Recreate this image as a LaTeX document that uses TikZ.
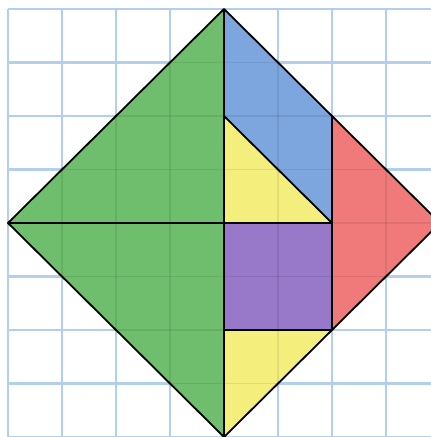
\documentclass[tikz,border=0pt]{standalone}
\begin{document}
\begin{tikzpicture}[x=1pt,y=-1pt,
  gridline/.style={draw=gridblue,line width=2.2pt},
  faintgrid/.style={draw=black,opacity=0.08,line width=1.5pt},
  piece/.style={draw=black,line width=1.8pt,line join=round}]
\definecolor{gridblue}{RGB}{178,208,238}
\definecolor{pgreen}{RGB}{110,190,110}
\definecolor{pblue}{RGB}{126,166,222}
\definecolor{pred}{RGB}{240,122,122}
\definecolor{ppurple}{RGB}{152,120,200}
\definecolor{pyellow}{RGB}{244,238,124}
\useasboundingbox (0,0) rectangle (431,437);
\clip (0,0) rectangle (431,437);
\fill[white] (0,0) rectangle (431,437);
% grid
\foreach \i in {0,...,8} {
  \draw[gridline] ({8+54*\i},9) -- ({8+54*\i},437);
  \draw[gridline] (8,{9+53.5*\i}) -- (431,{9+53.5*\i});
}
% key points
\coordinate (T) at (224,9);
\coordinate (L) at (8,223);
\coordinate (B) at (224,437);
\coordinate (R) at (440,223);
\coordinate (C) at (224,223);
\coordinate (M2) at (224,116);
\coordinate (N2) at (332,116);
\coordinate (N4) at (332,223);
\coordinate (N6) at (332,330);
\coordinate (M6) at (224,330);
% pieces
\fill[pgreen] (T) -- (L) -- (C) -- cycle;
\fill[pgreen] (L) -- (B) -- (C) -- cycle;
\fill[pblue] (T) -- (N2) -- (N4) -- (M2) -- cycle;
\fill[pyellow] (M2) -- (N4) -- (C) -- cycle;
\fill[pred] (N2) -- (R) -- (N6) -- cycle;
\fill[ppurple] (C) -- (N4) -- (N6) -- (M6) -- cycle;
\fill[pyellow] (M6) -- (N6) -- (B) -- cycle;
% faint grid through pieces
\begin{scope}
\clip (T) -- (L) -- (B) -- (R) -- cycle;
\foreach \i in {0,...,8} {
  \draw[faintgrid] ({8+54*\i},0) -- ({8+54*\i},437);
  \draw[faintgrid] (0,{9+53.5*\i}) -- (431,{9+53.5*\i});
}
\end{scope}
% outlines
\draw[piece] (T) -- (L) -- (B) -- (R) -- cycle;
\draw[piece] (T) -- (B);
\draw[piece] (L) -- (N4);
\draw[piece] (M2) -- (N4);
\draw[piece] (N2) -- (N6);
\draw[piece] (M6) -- (N6);
\end{tikzpicture}
\end{document}
